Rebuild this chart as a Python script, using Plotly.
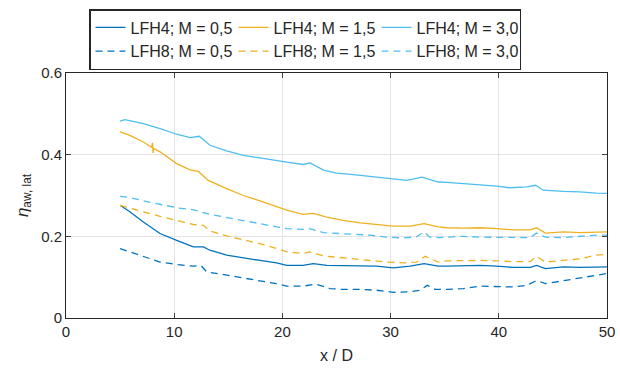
import plotly.graph_objects as go

# ---- data ----
x_lfh4_m05 = [5.0, 5.9, 7.15, 8.69, 10.23, 11.77, 12.7, 13.3, 14.85, 16.39, 17.93, 19.47, 20.4, 21.9, 22.86, 24.1, 25.6, 27.2, 28.7, 30.25, 31.8, 33.1, 34.4, 35.2, 36.7, 38.3, 39.8, 41.3, 42.9, 43.5, 44.3, 46.0, 47.5, 49.0, 50.0]
y_lfh4_m05 = [0.276, 0.260, 0.235, 0.207, 0.190, 0.174, 0.174, 0.166, 0.154, 0.147, 0.141, 0.135, 0.129, 0.129, 0.133, 0.129, 0.128, 0.127, 0.127, 0.123, 0.127, 0.133, 0.127, 0.127, 0.128, 0.129, 0.127, 0.124, 0.124, 0.129, 0.121, 0.125, 0.124, 0.125, 0.125]

x_lfh4_m15 = [5.0, 5.9, 7.15, 7.9, 8.0, 8.05, 8.1, 8.69, 10.23, 11.46, 12.23, 13.15, 14.85, 16.39, 17.93, 19.47, 20.4, 21.9, 22.86, 24.1, 25.6, 27.2, 28.7, 30.25, 31.8, 33.1, 34.4, 35.2, 36.7, 38.3, 39.8, 41.3, 42.9, 43.5, 44.3, 46.0, 47.5, 49.0, 50.0]
y_lfh4_m15 = [0.456, 0.447, 0.431, 0.418, 0.429, 0.404, 0.415, 0.407, 0.378, 0.363, 0.359, 0.337, 0.317, 0.300, 0.287, 0.272, 0.264, 0.254, 0.256, 0.247, 0.239, 0.233, 0.229, 0.225, 0.225, 0.231, 0.223, 0.221, 0.220, 0.221, 0.219, 0.216, 0.216, 0.221, 0.208, 0.211, 0.209, 0.211, 0.211]

x_lfh4_m30 = [5.0, 5.45, 7.15, 8.69, 10.23, 11.46, 12.32, 13.3, 14.85, 16.39, 17.93, 19.47, 20.4, 21.93, 22.55, 23.8, 25.0, 26.56, 28.1, 29.64, 31.5, 32.9, 34.4, 35.2, 36.7, 38.3, 39.8, 41.0, 42.6, 43.4, 44.1, 46.0, 47.5, 49.0, 50.0]
y_lfh4_m30 = [0.482, 0.486, 0.476, 0.464, 0.450, 0.442, 0.445, 0.423, 0.409, 0.398, 0.392, 0.385, 0.382, 0.376, 0.380, 0.362, 0.355, 0.351, 0.347, 0.343, 0.337, 0.345, 0.333, 0.332, 0.329, 0.327, 0.323, 0.319, 0.321, 0.325, 0.313, 0.310, 0.309, 0.306, 0.305]

x_lfh8_m05 = [5.0, 5.9, 7.15, 8.69, 10.23, 11.77, 12.5, 13.0, 14.85, 16.39, 17.93, 19.47, 20.4, 21.9, 23.1, 24.4, 25.6, 27.2, 28.7, 30.25, 31.8, 32.7, 33.4, 34.1, 35.2, 36.7, 38.3, 39.8, 41.3, 42.6, 43.5, 44.3, 46.0, 47.5, 49.0, 50.0]
y_lfh8_m05 = [0.170, 0.162, 0.149, 0.137, 0.131, 0.127, 0.128, 0.113, 0.105, 0.098, 0.092, 0.084, 0.078, 0.078, 0.083, 0.072, 0.070, 0.070, 0.068, 0.063, 0.064, 0.068, 0.080, 0.070, 0.070, 0.072, 0.078, 0.077, 0.076, 0.080, 0.092, 0.084, 0.092, 0.099, 0.106, 0.109]

x_lfh8_m15 = [5.0, 5.9, 7.15, 8.69, 10.23, 11.77, 12.7, 13.3, 14.85, 16.39, 17.93, 19.47, 20.4, 21.9, 22.5, 23.8, 25.0, 26.56, 28.1, 29.64, 31.2, 32.4, 33.2, 34.4, 35.2, 36.7, 38.3, 39.8, 41.3, 42.9, 43.5, 44.3, 46.0, 47.5, 49.0, 50.0]
y_lfh8_m15 = [0.276, 0.270, 0.260, 0.249, 0.239, 0.229, 0.227, 0.213, 0.201, 0.192, 0.182, 0.170, 0.162, 0.158, 0.162, 0.152, 0.149, 0.145, 0.141, 0.137, 0.135, 0.137, 0.151, 0.137, 0.140, 0.141, 0.141, 0.140, 0.138, 0.138, 0.151, 0.137, 0.141, 0.145, 0.154, 0.156]

x_lfh8_m30 = [5.0, 5.9, 7.15, 8.69, 10.23, 11.77, 13.3, 14.85, 16.39, 17.93, 19.47, 20.4, 21.9, 22.5, 23.8, 25.0, 26.56, 28.1, 29.64, 31.2, 32.4, 33.1, 33.6, 34.4, 35.2, 36.7, 38.3, 39.8, 41.3, 42.9, 43.5, 44.3, 46.0, 47.5, 49.0, 50.0]
y_lfh8_m30 = [0.298, 0.295, 0.287, 0.278, 0.270, 0.265, 0.254, 0.246, 0.239, 0.231, 0.223, 0.219, 0.217, 0.219, 0.209, 0.208, 0.205, 0.203, 0.198, 0.196, 0.199, 0.211, 0.198, 0.197, 0.198, 0.200, 0.198, 0.198, 0.197, 0.197, 0.208, 0.198, 0.197, 0.200, 0.203, 0.203]

x_ticks = [0, 10, 20, 30, 40, 50]
y_ticks = [0, 0.2, 0.4, 0.6]
y_tick_labels = ["0", "0.2", "0.4", "0.6"]

C_BLUE = "#0072BD"
C_ORANGE = "#EDB120"
C_LIGHT = "#4DBEEE"

series = [
    ("LFH4; M = 0,5", x_lfh4_m05, y_lfh4_m05, C_BLUE, "solid"),
    ("LFH4; M = 1,5", x_lfh4_m15, y_lfh4_m15, C_ORANGE, "solid"),
    ("LFH4; M = 3,0", x_lfh4_m30, y_lfh4_m30, C_LIGHT, "solid"),
    ("LFH8; M = 0,5", x_lfh8_m05, y_lfh8_m05, C_BLUE, "dash"),
    ("LFH8; M = 1,5", x_lfh8_m15, y_lfh8_m15, C_ORANGE, "dash"),
    ("LFH8; M = 3,0", x_lfh8_m30, y_lfh8_m30, C_LIGHT, "dash"),
]

fig = go.Figure()
for name, xs, ys, col, dash in series:
    fig.add_trace(go.Scatter(
        x=xs, y=ys, mode="lines", name=name,
        line=dict(color=col, width=1.3, dash=("7px,5px" if dash == "dash" else "solid")),
    ))

axis_col = "#262626"
FONT = "Liberation Sans, Arial, sans-serif"
fig.update_layout(
    width=620, height=378,
    margin=dict(l=66, r=13, t=73, b=60, autoexpand=False),
    paper_bgcolor="white", plot_bgcolor="white",
    font=dict(family=FONT, size=16, color=axis_col),
    showlegend=True,
    legend=dict(
        orientation="h",
        xref="container", yref="container",
        x=89/620, y=1 - 9/378, xanchor="left", yanchor="top",
        bordercolor=axis_col, borderwidth=1.5, bgcolor="white",
        entrywidth=98, entrywidthmode="pixels",
        font=dict(family=FONT, size=16, color=axis_col),
        tracegroupgap=0, itemwidth=30,
    ),
    xaxis=dict(
        range=[0, 50], tickvals=x_ticks, ticks="inside", ticklen=5,
        showline=True, linecolor=axis_col, linewidth=1, mirror="ticks",
        showgrid=True, gridcolor="#e3e3e3", gridwidth=1, zeroline=False,
        tickfont=dict(family=FONT, size=15, color=axis_col),
        title=dict(text="x / D", font=dict(family=FONT, size=16, color=axis_col), standoff=10),
    ),
    yaxis=dict(
        range=[0, 0.6], tickvals=y_ticks, ticktext=y_tick_labels, ticks="inside", ticklen=5,
        showline=True, linecolor=axis_col, linewidth=1, mirror="ticks",
        showgrid=True, gridcolor="#e3e3e3", gridwidth=1, zeroline=False,
        tickfont=dict(family=FONT, size=15, color=axis_col),
        title=dict(text="<i>η</i><sub>aw, lat</sub>", font=dict(family=FONT, size=17, color=axis_col), standoff=8),
    ),
)

fig.write_html("out.html")
